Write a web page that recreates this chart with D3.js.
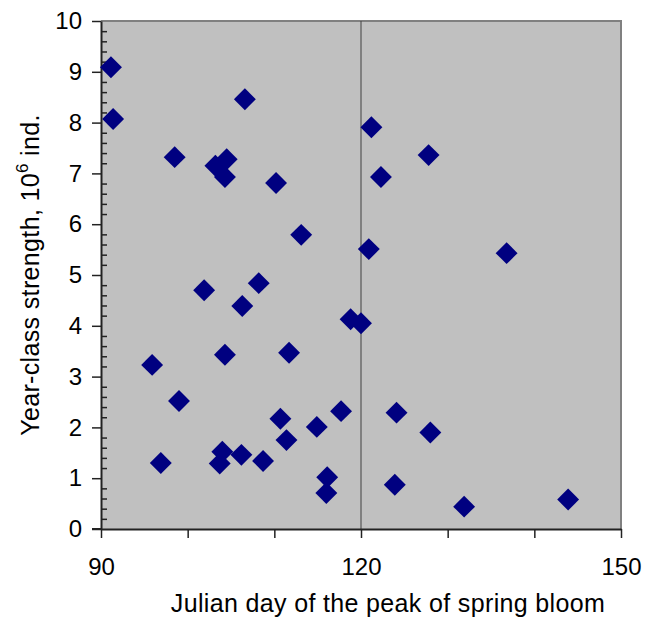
<!DOCTYPE html>
<html>
<head>
<meta charset="utf-8">
<script src="https://cdn.jsdelivr.net/npm/d3@7"></script>
<style>
  html, body { margin: 0; padding: 0; background: #fff; }
  svg { display: block; font-family: "Liberation Sans", Arial, sans-serif; }
</style>
</head>
<body>
<svg id="chart" width="646" height="618"></svg>
<script>
// Julian day of the spring bloom peak
const bloomDay = [
  91.15, 91.4, 98.5, 103.2, 104.5, 104.3, 106.6, 110.2, 113.1, 101.9,
  108.2, 106.3, 95.9, 104.3, 111.7, 99.0, 110.7, 111.4, 114.9, 96.9,
  103.7, 104.0, 106.2, 108.7, 116.1, 116.0, 117.7, 124.1, 128.0, 123.9,
  131.9, 143.9, 118.8, 120.0, 121.2, 127.8, 122.3, 120.9, 136.8
];
// Year-class strength, millions of individuals
const yearClass = [
  9.09, 8.07, 7.32, 7.15, 7.28, 6.93, 8.46, 6.81, 5.79, 4.70,
  4.84, 4.39, 3.23, 3.43, 3.47, 2.52, 2.17, 1.75, 2.01, 1.30,
  1.29, 1.52, 1.46, 1.34, 1.02, 0.71, 2.32, 2.29, 1.90, 0.87,
  0.44, 0.58, 4.13, 4.05, 7.91, 7.36, 6.93, 5.51, 5.43
];
const xTickValues = [90, 100, 110, 120, 130, 140, 150];
const xTickLabels = ["90", "", "", "120", "", "", "150"];
const yTickValues = [0, 1, 2, 3, 4, 5, 6, 7, 8, 9, 10];
const referenceDay = [120];

const svg = d3.select("#chart");
const m = { left: 101, top: 21, right: 621, bottom: 529 };
const FONT = "Liberation Sans, Arial, sans-serif";

const x = d3.scaleLinear().domain([90, 150]).range([m.left, m.right]);
const y = d3.scaleLinear().domain([0, 10]).range([m.bottom, m.top]);

// plot area
svg.append("rect")
  .attr("x", m.left).attr("y", m.top)
  .attr("width", m.right - m.left).attr("height", m.bottom - m.top)
  .attr("fill", "#c0c0c0");

// top and right frame
svg.append("path")
  .attr("d", `M${m.left},${m.top}H${m.right}V${m.bottom}`)
  .attr("fill", "none").attr("stroke", "#808080").attr("stroke-width", 2);

// reference line at day 120
svg.selectAll("line.ref").data(referenceDay).join("line")
  .attr("class", "ref")
  .attr("x1", d => x(d)).attr("x2", d => x(d))
  .attr("y1", m.top).attr("y2", m.bottom)
  .attr("stroke", "#404040").attr("stroke-width", 1);

// minor y ticks (inside)
const yMinor = d3.axisRight(y)
  .tickValues(d3.range(0, 10.001, 0.2).filter(v => Math.abs(v - Math.round(v)) > 1e-6))
  .tickSize(6).tickFormat("");
svg.append("g").attr("transform", `translate(${m.left},0)`).call(yMinor)
  .call(g => g.select(".domain").remove())
  .call(g => g.selectAll("line").attr("stroke", "#222").attr("stroke-width", 1.5));

// y axis
const yAxis = d3.axisLeft(y).tickValues(yTickValues).tickSize(9).tickPadding(10).tickSizeOuter(0);
svg.append("g").attr("transform", `translate(${m.left},0)`).call(yAxis)
  .call(g => g.select(".domain").attr("stroke", "#222").attr("stroke-width", 2))
  .call(g => g.selectAll("line").attr("stroke", "#222").attr("stroke-width", 1.5))
  .call(g => g.selectAll("text").attr("font-size", 24).attr("fill", "#000").attr("font-family", FONT));

// x axis
const xAxis = d3.axisBottom(x).tickValues(xTickValues)
  .tickFormat((d, i) => xTickLabels[i]).tickSize(9).tickPadding(20).tickSizeOuter(0);
svg.append("g").attr("transform", `translate(0,${m.bottom})`).call(xAxis)
  .call(g => g.select(".domain").attr("stroke", "#222").attr("stroke-width", 2))
  .call(g => g.selectAll("line").attr("stroke", "#222").attr("stroke-width", 1.5))
  .call(g => g.selectAll("text").attr("font-size", 24).attr("fill", "#000").attr("font-family", FONT));

// extend the x axis line slightly left of the origin
svg.append("line").attr("x1", m.left - 9).attr("x2", m.left).attr("y1", m.bottom).attr("y2", m.bottom)
  .attr("stroke", "#222").attr("stroke-width", 2);

// markers
const diamond = d3.symbol().type(d3.symbolSquare).size(240);
svg.append("g").selectAll("path").data(bloomDay.map((d, i) => [d, yearClass[i]])).join("path")
  .attr("d", diamond)
  .attr("transform", d => `translate(${x(d[0])},${y(d[1])}) rotate(45)`)
  .attr("fill", "#000080");

// axis titles
svg.append("text")
  .attr("x", 388).attr("y", 612)
  .attr("text-anchor", "middle").attr("font-size", 25).attr("letter-spacing", 0.35)
  .attr("fill", "#000")
  .text("Julian day of the peak of spring bloom");

const yt = svg.append("text")
  .attr("transform", `translate(39,${(m.top + m.bottom) / 2}) rotate(-90)`)
  .attr("text-anchor", "middle").attr("font-size", 25).attr("letter-spacing", 0.35)
  .attr("fill", "#000");
yt.append("tspan").text("Year-class strength, 10");
yt.append("tspan").attr("font-size", 17).attr("dy", -11).text("6");
yt.append("tspan").attr("dy", 11).text(" ind.");
</script>
</body>
</html>
